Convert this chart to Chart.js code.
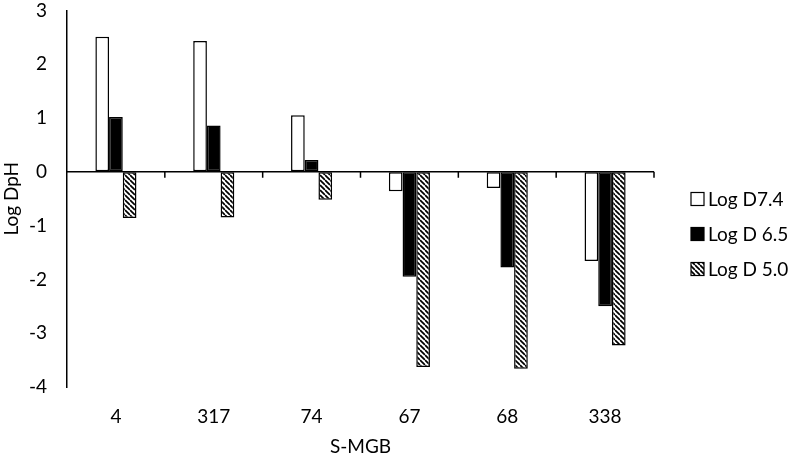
<!DOCTYPE html>
<html>
<head>
<meta charset="utf-8">
<script src="https://cdn.jsdelivr.net/npm/chart.js@4"></script>
<style>
  html, body { margin: 0; padding: 0; background: #fff; }
</style>
</head>
<body>
<canvas id="chart" width="788" height="458"></canvas>
<script>
// data
const categories = ['4', '317', '74', '67', '68', '338'];
const seriesNames = ['Log D7.4', 'Log D 6.5', 'Log D 5.0'];
const logD74 = [2.51, 2.43, 1.05, -0.36, -0.30, -1.66];
const logD65 = [1.02, 0.86, 0.22, -1.95, -1.78, -2.50];
const logD50 = [-0.86, -0.85, -0.52, -3.63, -3.66, -3.23];

const FONT = 'Lato, "Open Sans", sans-serif';
const FONT_SIZE = 19;

// hatch pattern (diagonal stripes)
function makeHatch() {
    const s = 5;
    const c = document.createElement('canvas');
    c.width = s; c.height = s;
    const g = c.getContext('2d');
    g.fillStyle = '#fff';
    g.fillRect(0, 0, s, s);
    g.strokeStyle = '#000';
    g.lineWidth = 1.7;
    for (let k = -1; k <= 1; k++) {
        g.beginPath();
        g.moveTo(0, k * s);
        g.lineTo(s, s + k * s);
        g.stroke();
    }
    return g.createPattern(c, 'repeat');
}

const ctx = document.getElementById('chart').getContext('2d');
const hatch = makeHatch();
const fills = ['#ffffff', '#000000', hatch];

// zero line with tick marks between categories
const zeroAxis = {
    id: 'zeroAxis',
    afterDatasetsDraw(chart) {
        const c = chart.ctx;
        const area = chart.chartArea;
        const y0 = chart.scales.y.getPixelForValue(0);
        const n = categories.length;
        const step = (area.right - area.left) / n;
        c.save();
        c.strokeStyle = '#000';
        c.lineWidth = 1.5;
        c.beginPath();
        c.moveTo(area.left, y0);
        c.lineTo(area.right, y0);
        for (let i = 1; i <= n; i++) {
            const x = area.left + i * step;
            c.moveTo(x, y0);
            c.lineTo(x, y0 + 6);
        }
        c.stroke();
        c.restore();
    }
};

// legend on the right
const sideLegend = {
    id: 'sideLegend',
    afterDraw(chart) {
        const c = chart.ctx;
        const x = chart.chartArea.right + 37;
        c.save();
        c.font = FONT_SIZE + 'px ' + FONT;
        c.textBaseline = 'middle';
        seriesNames.forEach((name, i) => {
            const y = 199 + i * 35;
            c.fillStyle = fills[i];
            c.fillRect(x, y - 6.5, 13, 13);
            c.strokeStyle = '#000';
            c.lineWidth = 1.2;
            c.strokeRect(x, y - 6.5, 13, 13);
            c.fillStyle = '#000';
            c.fillText(name, x + 17, y + 1);
        });
        c.restore();
    }
};

new Chart(ctx, {
    type: 'bar',
    data: {
        labels: categories,
        datasets: [logD74, logD65, logD50].map((d, i) => ({
            label: seriesNames[i],
            data: d,
            backgroundColor: fills[i],
            borderColor: '#000',
            borderWidth: 1.5,
            borderSkipped: false,
            categoryPercentage: 0.42,
            barPercentage: 1
        }))
    },
    options: {
        responsive: false,
        animation: false,
        layout: { padding: { top: 0, right: 134, bottom: 0, left: 0 } },
        scales: {
            x: {
                afterFit(scale) { scale.height = 71; },
                grid: { display: false, drawTicks: false },
                border: { display: false },
                ticks: { color: '#000', font: { family: FONT, size: FONT_SIZE }, padding: 18 },
                title: { display: true, text: 'S-MGB', color: '#000', font: { family: FONT, size: FONT_SIZE }, padding: { top: 0, bottom: 0 } }
            },
            y: {
                afterFit(scale) { scale.width = 67; },
                min: -4,
                max: 3,
                ticks: { stepSize: 1, color: '#000', font: { family: FONT, size: FONT_SIZE, lineHeight: 1.1 }, padding: 0 },
                grid: { display: true, drawOnChartArea: false, drawTicks: true, tickLength: 20, tickColor: 'rgba(0,0,0,0)' },
                border: { display: true, color: '#000', width: 1.5 },
                title: { display: true, text: 'Log DpH', color: '#000', font: { family: FONT, size: FONT_SIZE }, padding: { top: 0, bottom: 0 } }
            }
        },
        plugins: {
            legend: { display: false },
            tooltip: { enabled: false }
        }
    },
    plugins: [zeroAxis, sideLegend]
});
</script>
</body>
</html>
